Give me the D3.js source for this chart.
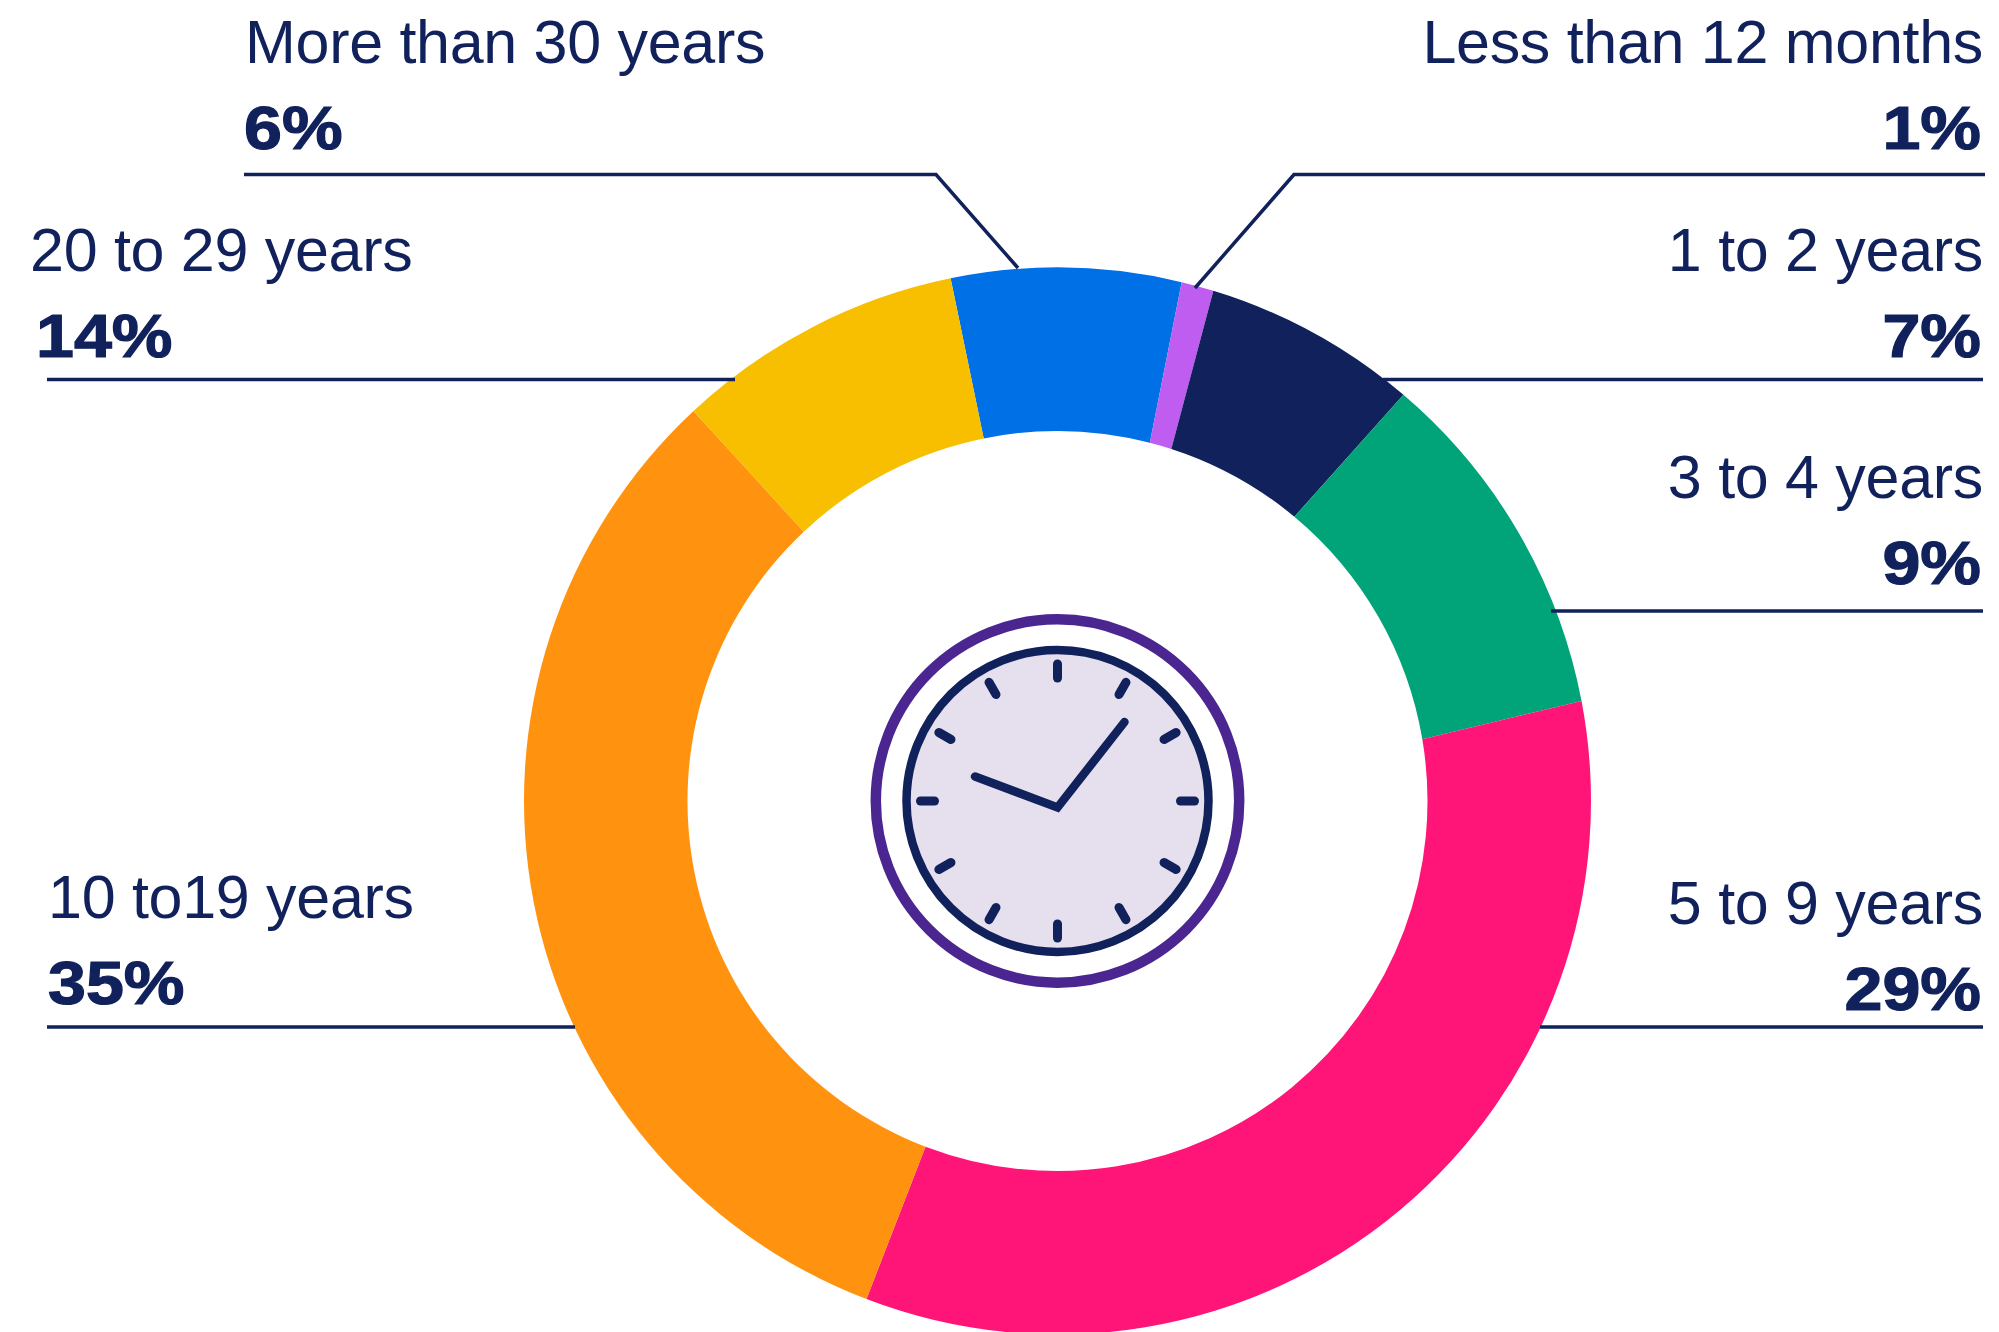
<!DOCTYPE html>
<html>
<head>
<meta charset="utf-8">
<script src="https://cdnjs.cloudflare.com/ajax/libs/d3/7.8.5/d3.min.js"></script>
<style>
  html, body { margin: 0; padding: 0; background: #fff; }
  svg { display: block; }
  text { font-family: "Liberation Sans", Arial, sans-serif; fill: #10215b; }
  .name { font-size: 61px; letter-spacing: -0.3px; }
  .pct { font-size: 62px; font-weight: 700; stroke: #10215b; stroke-width: 1.2px; }
</style>
</head>
<body>
<script>
const categories = ["More than 30 years", "Less than 12 months", "1 to 2 years", "3 to 4 years", "5 to 9 years", "10 to19 years", "20 to 29 years"];
// printed figures
const labels = ["6%", "1%", "7%", "9%", "29%", "35%", "14%"];
// the drawn ring does not follow the printed figures, and its slice edges are
// not quite radial, so shares are read off the outer and the inner edge separately
const outerShares = [6.95, 0.98, 6.51, 10.77, 33.83, 32.22, 8.74];
const innerShares = [7.21, 0.96, 6.08, 11.28, 33.47, 32.17, 8.83];
const colors = ["#0070e6", "#be5df0", "#10215b", "#00a478", "#ff1478", "#ff930f", "#f7bf00"];

const width = 1999;
const height = 1332;
const cx = 1057.5;
const cy = 801;
const outerRadius = 533.5;
const innerRadius = 370;
const navy = "#10215b";

// label blocks and leader lines, same order as categories
const layout = [
    {anchor: "start", nameX: 245, pctX: 244, nameY: 63, pctY: 149, line: [[244, 174.5], [936, 174.5], [1018, 268]]},
    {anchor: "end", nameX: 1983, pctX: 1981, nameY: 63, pctY: 149, line: [[1985, 174.5], [1294, 174.5], [1195, 288]]},
    {anchor: "end", nameX: 1983, pctX: 1981, nameY: 271, pctY: 357, line: [[1983, 379.5], [1383, 379.5]]},
    {anchor: "end", nameX: 1983, pctX: 1981, nameY: 498, pctY: 584, line: [[1983, 611], [1551, 611]]},
    {anchor: "end", nameX: 1983, pctX: 1981, nameY: 924, pctY: 1010, line: [[1983, 1027], [1540, 1027]]},
    {anchor: "start", nameX: 48, pctX: 48, nameY: 918, pctY: 1004, line: [[47, 1027], [575, 1027]]},
    {anchor: "start", nameX: 30, pctX: 36, nameY: 271, pctY: 357, line: [[47, 379.5], [735, 379.5]]}
];

const data = categories.map((c, i) => ({name: c, label: labels[i], color: colors[i], pos: layout[i]}));

const svg = d3.select("body").append("svg")
    .attr("width", width)
    .attr("height", height);

const pieFrom = function(startDeg) {
    const start = startDeg * Math.PI / 180;
    return d3.pie().sort(null).startAngle(start).endAngle(start + 2 * Math.PI);
};

const outerSlices = pieFrom(-11.56)(outerShares);
const innerSlices = pieFrom(-11.5)(innerShares);

// d3.arc can't give an edge two angles, so each slice is built with d3.path
const slicePath = function(i) {
    const quarter = Math.PI / 2;
    const p = d3.path();
    p.arc(0, 0, outerRadius, outerSlices[i].startAngle - quarter, outerSlices[i].endAngle - quarter);
    p.arc(0, 0, innerRadius, innerSlices[i].endAngle - quarter, innerSlices[i].startAngle - quarter, true);
    p.closePath();
    return p.toString();
};

svg.append("g")
    .attr("transform", `translate(${cx},${cy})`)
    .selectAll("path")
    .data(data)
    .enter()
    .append("path")
    .attr("d", (d, i) => slicePath(i))
    .attr("fill", d => d.color);

svg.selectAll(".leader")
    .data(data)
    .enter()
    .append("path")
    .attr("class", "leader")
    .attr("d", d => d3.line()(d.pos.line))
    .attr("fill", "none")
    .attr("stroke", navy)
    .attr("stroke-width", 3.5);

svg.selectAll(".name")
    .data(data)
    .enter()
    .append("text")
    .attr("class", "name")
    .attr("x", d => d.pos.nameX)
    .attr("y", d => d.pos.nameY)
    .attr("text-anchor", d => d.pos.anchor)
    .text(d => d.name);

// the figures are a wider cut than Liberation bold
svg.selectAll(".pct")
    .data(data)
    .enter()
    .append("text")
    .attr("class", "pct")
    .attr("transform", d => `translate(${d.pos.pctX},${d.pos.pctY}) scale(1.1,1)`)
    .attr("text-anchor", d => d.pos.anchor)
    .text(d => d.label);

// clock in the middle
const clock = svg.append("g").attr("transform", `translate(${cx},${cy})`);

clock.append("circle")
    .attr("r", 181.7)
    .attr("fill", "#fff")
    .attr("stroke", "#4b2691")
    .attr("stroke-width", 10.5);

clock.append("circle")
    .attr("r", 151)
    .attr("fill", "#e5dfee")
    .attr("stroke", navy)
    .attr("stroke-width", 8.5);

clock.selectAll(".tick")
    .data(d3.range(12))
    .enter()
    .append("line")
    .attr("class", "tick")
    .attr("x1", d => 123 * Math.sin(d * Math.PI / 6))
    .attr("y1", d => -123 * Math.cos(d * Math.PI / 6))
    .attr("x2", d => 137 * Math.sin(d * Math.PI / 6))
    .attr("y2", d => -137 * Math.cos(d * Math.PI / 6))
    .attr("stroke", navy)
    .attr("stroke-width", 9)
    .attr("stroke-linecap", "round");

clock.append("path")
    .attr("d", d3.line()([[-82.5, -24.5], [0, 6.5], [67, -79]]))
    .attr("fill", "none")
    .attr("stroke", navy)
    .attr("stroke-width", 8.5)
    .attr("stroke-linecap", "round")
    .attr("stroke-linejoin", "miter");
</script>
</body>
</html>
